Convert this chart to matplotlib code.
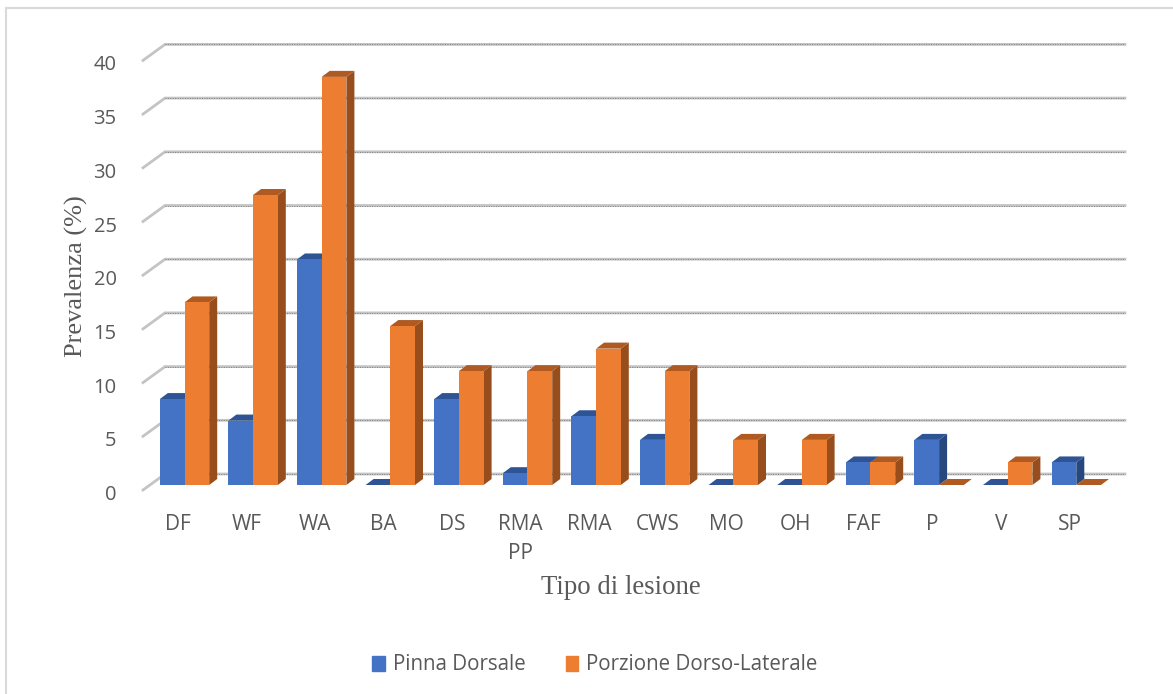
import matplotlib
matplotlib.use("Agg")
import matplotlib.pyplot as plt
from matplotlib.patches import Rectangle

categories = ["DF", "WF", "WA", "BA", "DS", "RMA\nPP", "RMA", "CWS", "MO", "OH", "FAF", "P", "V", "SP"]
pinna_dorsale = [8, 6, 21, 0, 8, 1.1, 6.4, 4.2, 0, 0, 2.1, 4.2, 0, 2.1]
porzione_dorso_laterale = [17, 27, 38, 14.8, 10.6, 10.6, 12.7, 10.6, 4.2, 4.2, 2.1, 0, 2.1, 0]
y_ticks = [0, 5, 10, 15, 20, 25, 30, 35, 40]

W, H = 1173, 694
TEXT = "#595959"

# pixel layout of the front plane
X0, STEP = 184.5, 68.6
Y0, UNIT = 485.0, 10.74
LEFT, RIGHT = 143, 1125
TOP = Y0 - 40 * UNIT

fig = plt.figure(figsize=(W / 100, H / 100), dpi=100)
# chart frame, only its top and left edges fall inside the figure
fig.add_artist(plt.Line2D([6 / W, 6 / W, 1], [0, 1 - 8 / H, 1 - 8 / H], color="#d9d9d9", lw=1.5,
                          transform=fig.transFigure, solid_joinstyle="miter"))

ax = fig.add_axes([LEFT / W, 1 - Y0 / H, (RIGHT - LEFT) / W, (Y0 - TOP) / H])
ax.set_xlim((LEFT - X0) / STEP, (RIGHT - X0) / STEP)
ax.set_ylim(0, 40)
ax.patch.set_visible(False)
for s in ax.spines.values():
    s.set_visible(False)

bar_w = 24.7 / STEP
depth_x, depth_y = 8 / STEP, 6 / UNIT


def box(x, w, v, front, side, top):
    # one extruded column: right side, lid, then the front face
    ax.fill([x + w, x + w + depth_x, x + w + depth_x, x + w],
            [0, depth_y, v + depth_y, v], color=side, lw=0, clip_on=False, zorder=3)
    ax.fill([x, x + depth_x, x + w + depth_x, x + w],
            [v, v + depth_y, v + depth_y, v], color=top, lw=0, clip_on=False, zorder=3)
    if v > 0:
        return ax.bar(x, v, w, align="edge", color=front, lw=0, clip_on=False, zorder=3)


# gridlines on the back wall with the short return to the front plane
wall_x0 = (165 - X0) / STEP
wall_x1 = (1125 - X0) / STEP
wall_front = (143 - X0) / STEP
for t in y_ticks:
    back, front = t + 11 / UNIT, t - 5 / UNIT
    ax.plot([wall_front, wall_x0, wall_x1], [front, back, back], color="#c4c4c4", lw=2,
            clip_on=False, zorder=1, solid_joinstyle="miter")
    ax.plot([wall_x0, wall_x1], [back, back], color="#7f7f7f", lw=0.7, ls=(0, (1, 1.5)),
            clip_on=False, zorder=2)

for i in range(len(categories)):
    box(i - bar_w, bar_w, pinna_dorsale[i], "#4472c4", "#27477f", "#2f5496")
    box(i, bar_w, porzione_dorso_laterale[i], "#ed7d31", "#984e1c", "#ae5a21")

ax.set_xticks([i - 0.1 for i in range(len(categories))], categories)
ax.set_yticks(y_ticks)
ax.tick_params(axis="both", length=0, labelcolor=TEXT, labelsize=14.5)
ax.tick_params(axis="x", pad=21, labelsize=15)
ax.tick_params(axis="y", pad=19)
for lab in ax.get_yticklabels():
    lab.set_family("Open Sans")
    lab.set_verticalalignment("top")
for lab in ax.get_xticklabels():
    lab.set_family("Open Sans")
    lab.set_linespacing(1.5)

fig.text(76 / W, 1 - 276 / H, "Prevalenza (%)", rotation=90, ha="center", va="center",
         family="Liberation Serif", fontsize=19, color=TEXT)
fig.text(620.5 / W, 1 - 587 / H, "Tipo di lesione", ha="center", va="center",
         family="Liberation Serif", fontsize=19.3, color=TEXT)

handles = [Rectangle((0, 0), 1, 1, color="#4472c4"), Rectangle((0, 0), 1, 1, color="#ed7d31")]
fig.legend(handles, ["Pinna Dorsale", "Porzione Dorso-Laterale"], loc="center",
           bbox_to_anchor=(595 / W, 1 - 665 / H), ncol=2, frameon=False, labelcolor=TEXT,
           prop={"family": "Open Sans", "size": 14.8}, handlelength=0.62, handleheight=0.72,
           handletextpad=0.38, columnspacing=1.95)

fig.savefig("out.png", dpi=100)
